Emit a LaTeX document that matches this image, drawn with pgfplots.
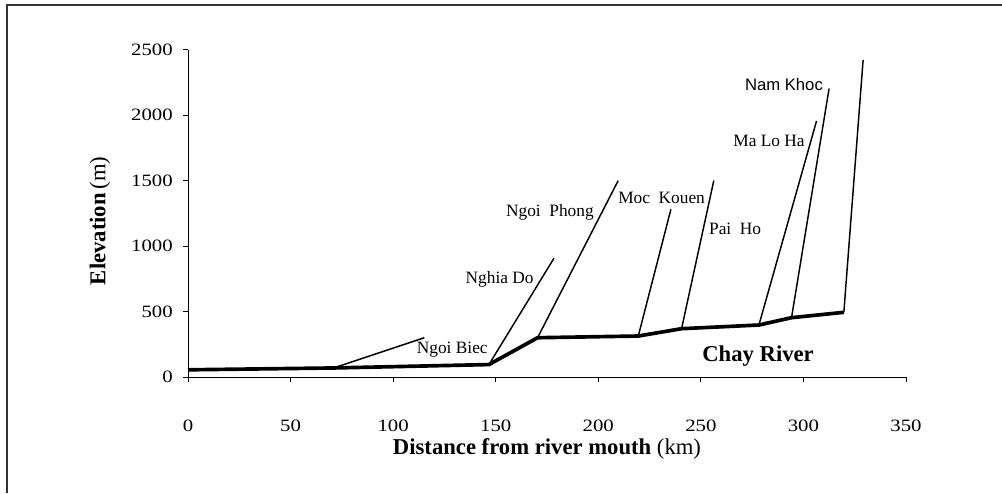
\documentclass[border=0pt]{standalone}
\usepackage{fontspec}
\setmainfont{Liberation Serif}
\newfontfamily\tickfont[FakeStretch=1.2]{Liberation Serif}
\newfontfamily\arial{Liberation Sans}
\usepackage{pgfplots}
\pgfplotsset{compat=1.18}
\begin{document}
\begin{tikzpicture}
\useasboundingbox (0pt,0pt) rectangle (751.5pt,369.75pt);
\draw[line width=1.5pt, color=black!80] (5.25pt,0pt) -- (5.25pt,366pt) -- (751.5pt,366pt);
\begin{axis}[
  at={(141pt,87pt)}, anchor=south west,
  scale only axis, width=538.5pt, height=245.5pt,
  xmin=0, xmax=350, ymin=0, ymax=2500,
  axis x line*=bottom, axis y line*=left,
  axis line style={line width=0.75pt, black},
  xtick={0,50,...,350}, ytick={0,500,...,2500},
  tick align=outside, major tick length=3.75pt,
  tick style={line width=0.75pt, black},
  /pgf/number format/assume math mode=true,
  /pgf/number format/1000 sep={},
  tick label style={font=\tickfont\fontsize{13}{15}\selectfont},
  yticklabel style={anchor=east, inner sep=0pt, xshift=-7.5pt},
  xticklabel style={anchor=north, inner sep=0pt, yshift=-28pt},
  xlabel={{\bfseries Distance from river mouth} (km)},
  ylabel={{\bfseries Elevation}\,(m)},
  label style={font=\fontsize{17}{20}\selectfont},
  xlabel style={at={(axis description cs:0.5,-0.2353)}, anchor=base, inner sep=0pt},
  ylabel style={at={(axis description cs:-0.1226,0.477)}, anchor=center, inner sep=0pt},
  clip=false,
]
% main river (Chay)
\addplot[black, line width=2.75pt, line join=round] coordinates {
  (0,55) (71,69) (146.7,95) (170.4,300) (219.5,313) (240.6,369) (278.3,397) (294.2,453) (319.7,494)
};
% tributaries and headwater
\addplot[black, line width=1.1pt] coordinates {(71,69) (115.2,300)};
\addplot[black, line width=1.1pt] coordinates {(146.7,95) (178.4,907)};
\addplot[black, line width=1.1pt] coordinates {(170.4,300) (209.7,1500)};
\addplot[black, line width=1.1pt] coordinates {(219.5,313) (235.4,1281)};
\addplot[black, line width=1.1pt] coordinates {(240.6,369) (256.3,1500)};
\addplot[black, line width=1.1pt] coordinates {(278.3,397) (306.4,1956)};
\addplot[black, line width=1.1pt] coordinates {(294.2,453) (312.5,2203)};
\addplot[black, line width=1.1pt] coordinates {(319.7,494) (329.1,2422)};
% labels
\begin{scope}[every node/.style={inner sep=0pt, font=\fontsize{13}{15}\selectfont}]
\node[anchor=base east] at (axis cs:146.2,176) {Ngoi Biec};
\node[anchor=base east] at (axis cs:168.6,716) {Nghia Do};
\node[anchor=base east] at (axis cs:197.9,1225) {Ngoi\ \ Phong};
\node[anchor=base west] at (axis cs:209.6,1322) {Moc\ \ Kouen};
\node[anchor=base west] at (axis cs:253.9,1085) {Pai\ \ Ho};
\node[anchor=base east] at (axis cs:300.7,1760) {Ma Lo Ha};
\node[anchor=base east, font=\arial\fontsize{12.5}{14}\selectfont] at (axis cs:309.6,2185) {Nam Khoc};
\node[anchor=base west, font=\bfseries\fontsize{17}{20}\selectfont] at (axis cs:250.6,117) {Chay River};
\end{scope}
\end{axis}
\end{tikzpicture}
\end{document}
